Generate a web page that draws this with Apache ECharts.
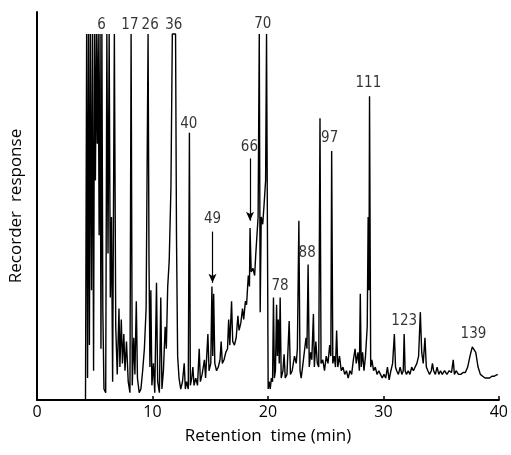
<!DOCTYPE html>
<html>
<head>
<meta charset="utf-8">
<script src="https://cdn.jsdelivr.net/npm/echarts@6/dist/echarts.min.js"></script>
<style>
  html, body { margin: 0; padding: 0; background: #fff; }
  #main { width: 511px; height: 455px; }
</style>
</head>
<body>
<div id="main"></div>
<script>
// chromatogram trace, [retention time (min), response (% of full scale)]
const solventFront = [
  [4.20, 0], [4.30, 100], [4.38, 6], [4.46, 100], [4.54, 15], [4.62, 100], [4.72, 30], [4.80, 100],
  [4.90, 8], [4.98, 100], [5.06, 60], [5.14, 100], [5.22, 70], [5.30, 100], [5.38, 45], [5.46, 100],
  [5.54, 14], [5.62, 100], [5.70, 25], [5.80, 3], [5.95, 2], [6.05, 100], [6.15, 40], [6.25, 100],
  [6.35, 28], [6.45, 50], [6.55, 5], [6.70, 100], [6.82, 20], [6.95, 7], [7.10, 25], [7.18, 9],
  [7.30, 22], [7.40, 10], [7.52, 18], [7.62, 8], [7.75, 16], [7.90, 5], [8.05, 2], [8.15, 100],
  [8.25, 4], [8.38, 17], [8.48, 7], [8.60, 27], [8.70, 6], [8.85, 2], [9.00, 3], [9.15, 8],
  [9.30, 14], [9.45, 25], [9.62, 100], [9.70, 38], [9.78, 9], [9.86, 30], [9.95, 4], [10.08, 10],
  [10.20, 2], [10.35, 32], [10.45, 5], [10.60, 2], [10.72, 28], [10.82, 3], [10.95, 8], [11.10, 20],
  [11.20, 14], [11.32, 31], [11.45, 38], [11.60, 58], [11.72, 100], [12.00, 100], [12.08, 45],
  [12.18, 12], [12.30, 6]
]

const midRise = [
  [12.45, 3], [12.6, 5], [12.75, 10], [12.85, 3], [12.95, 5], [13.1, 3], [13.2, 73], [13.28, 4],
  [13.4, 6], [13.5, 9], [13.6, 4], [13.75, 6], [13.9, 4], [14.05, 14], [14.15, 5], [14.3, 7],
  [14.5, 11], [14.6, 6], [14.8, 18], [14.9, 8], [15.05, 10], [15.15, 31], [15.22, 12], [15.3, 29],
  [15.4, 10], [15.55, 8], [15.7, 9], [15.85, 11], [15.95, 16], [16.05, 10], [16.2, 11], [16.35, 13],
  [16.5, 14], [16.6, 22], [16.7, 15], [16.85, 27], [16.95, 16], [17.1, 15], [17.25, 17], [17.4, 23],
  [17.5, 19], [17.65, 21], [17.8, 25], [17.9, 22], [18.05, 27], [18.15, 26], [18.3, 34], [18.4, 31],
  [18.45, 47], [18.55, 35], [18.7, 36], [18.85, 34], [18.95, 40], [19.05, 45], [19.15, 50]
]

const peak70 = [
  [19.25, 100], [19.33, 24], [19.42, 50], [19.55, 48], [19.68, 54], [19.8, 60], [19.88, 100],
  [19.95, 100], [20.02, 3]
]

const lateRegion = [
  [20.1, 5], [20.2, 3], [20.3, 6], [20.4, 5], [20.48, 28], [20.56, 6], [20.65, 8], [20.75, 26],
  [20.82, 12], [20.9, 22], [20.98, 10], [21.06, 28], [21.15, 6], [21.3, 8], [21.4, 12.5], [21.5, 6],
  [21.65, 7], [21.84, 21.6], [21.95, 7], [22.1, 8], [22.3, 12], [22.45, 10], [22.55, 14], [22.68, 49],
  [22.78, 8], [22.88, 6], [23.0, 9], [23.15, 13], [23.3, 17], [23.38, 14], [23.48, 37], [23.58, 9],
  [23.7, 13], [23.8, 11], [23.94, 23.5], [24.02, 9], [24.15, 16], [24.28, 10], [24.4, 9], [24.51, 77],
  [24.6, 10], [24.75, 11], [24.9, 8], [25.05, 12], [25.2, 10], [25.35, 15], [25.45, 12], [25.52, 68],
  [25.62, 10], [25.75, 12], [25.85, 9], [25.95, 19], [26.05, 9], [26.2, 12], [26.35, 8], [26.5, 9],
  [26.65, 7], [26.8, 8], [26.95, 6], [27.1, 8], [27.25, 7], [27.4, 11], [27.55, 14], [27.65, 10],
  [27.8, 13], [27.92, 8], [28.0, 29], [28.08, 9], [28.2, 13], [28.32, 8], [28.45, 12], [28.6, 20],
  [28.68, 50], [28.75, 30], [28.8, 83], [28.9, 9], [29.0, 11], [29.15, 8], [29.3, 9], [29.45, 7],
  [29.6, 8], [29.75, 7], [29.9, 6]
]

const tail = [
  [30.05, 7], [30.2, 6], [30.35, 9], [30.5, 5.5], [30.65, 8], [30.8, 10], [30.95, 18], [31.05, 9],
  [31.15, 8], [31.3, 7], [31.45, 9], [31.6, 7], [31.72, 8], [31.8, 18], [31.88, 8], [32.0, 7],
  [32.15, 8], [32.3, 7], [32.45, 9], [32.6, 8], [32.75, 9], [32.9, 10], [33.05, 12], [33.2, 24],
  [33.32, 13], [33.45, 10], [33.6, 17], [33.72, 9], [33.85, 8], [34.0, 7], [34.15, 8], [34.25, 10],
  [34.35, 8], [34.5, 7], [34.65, 9], [34.8, 7], [34.95, 8], [35.1, 7], [35.3, 8], [35.5, 7],
  [35.7, 8], [35.9, 7.5], [36.05, 11], [36.15, 7], [36.3, 8], [36.5, 7], [36.7, 7], [36.9, 7.5],
  [37.1, 7.5], [37.3, 9], [37.5, 12], [37.7, 14.5], [37.85, 15], [38.0, 13], [38.2, 9], [38.4, 7],
  [38.6, 6.5], [38.8, 6], [39.0, 6], [39.2, 6], [39.4, 6.5], [39.6, 6.5], [39.75, 7], [39.9, 7]
]

// peak numbers
const peakNames = ['6', '17', '26', '36', '70', '40', '66', '49', '78', '88', '97', '111', '123', '139']
const peakLabelTime = [5.6, 8.05, 9.8, 11.85, 19.55, 13.15, 18.4, 15.2, 21.05, 23.4, 25.35, 28.7, 31.8, 37.8]
const peakLabelResp = [102.5, 102.5, 102.5, 102.5, 102.8, 75.5, 69, 49.5, 31, 40, 71.5, 86.6, 21.6, 18]

// arrows pointing at peaks 49 and 66: [time, from, to]
const arrows = [[15.2, 46, 32], [18.45, 66, 49]]

const ticks = [0, 10, 20, 30, 40]

const trace = [...solventFront, ...midRise, ...peak70, ...lateRegion, ...tail]

var chart = echarts.init(document.getElementById('main'))

const font = "'Open Sans', 'DejaVu Sans', sans-serif"
const narrow = "'DejaVu Sans Condensed', 'Liberation Sans Narrow', sans-serif"

let option = {
  animation: false,
  grid: { left: 35, right: 12, top: 12, bottom: 55 },
  xAxis: {
    type: 'value',
    min: ticks[0],
    max: ticks[ticks.length - 1],
    interval: 10,
    name: 'Retention  time (min)',
    nameLocation: 'middle',
    nameGap: 28,
    nameTextStyle: { fontFamily: font, fontSize: 17, color: '#000' },
    axisLine: { lineStyle: { color: '#000', width: 2 } },
    axisTick: { inside: true, length: 4, lineStyle: { color: '#000', width: 1.5 } },
    axisLabel: { fontFamily: font, fontSize: 16, color: '#000', margin: 4 },
    splitLine: { show: false }
  },
  yAxis: {
    type: 'value',
    min: 0,
    max: 106,
    name: 'Recorder  response',
    nameLocation: 'middle',
    nameRotate: 90,
    nameGap: 12,
    nameTextStyle: { fontFamily: font, fontSize: 17, color: '#000', padding: [0, 0, 0, 0] },
    axisLine: { show: true, lineStyle: { color: '#000', width: 2 } },
    axisTick: { show: false },
    axisLabel: { show: false },
    splitLine: { show: false }
  },
  series: [
    {
      type: 'line',
      data: trace,
      showSymbol: false,
      lineStyle: { color: '#000', width: 1.4 },
      silent: true
    },
    {
      type: 'scatter',
      symbolSize: 0,
      silent: true,
      data: peakNames.map((n, i) => ({ name: n, value: [peakLabelTime[i], peakLabelResp[i]] })),
      label: {
        show: true,
        position: 'inside',
        formatter: p => p.name,
        fontFamily: narrow,
        fontSize: 15,
        color: '#000'
      },
      markLine: {
        silent: true,
        symbol: ['none', 'arrow'],
        symbolSize: [6, 9],
        label: { show: false },
        lineStyle: { color: '#000', width: 1.2, type: 'solid' },
        data: arrows.map(a => [{ coord: [a[0], a[1]] }, { coord: [a[0], a[2]] }])
      }
    }
  ]
}

chart.setOption(option)
</script>
</body>
</html>
